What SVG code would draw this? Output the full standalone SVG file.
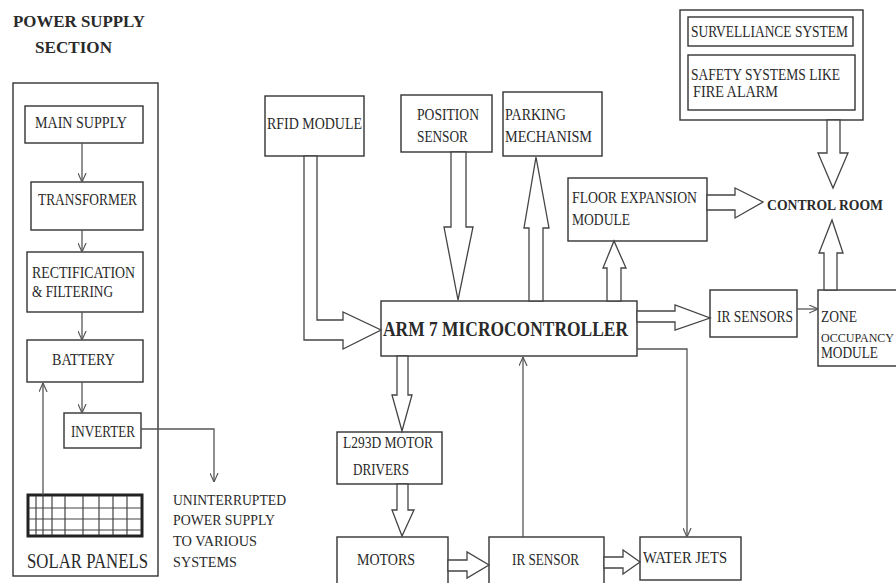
<svg xmlns="http://www.w3.org/2000/svg" width="896" height="583" viewBox="0 0 896 583">
<defs>
<style>
.box{fill:#fff;stroke:#333;stroke-width:1.4}
.t{font-family:"Liberation Serif","Times New Roman",serif;font-size:16px;fill:#2a2a2a}
.b{font-weight:bold}
.ln{fill:none;stroke:#555;stroke-width:1.3}
.blk{fill:#fff;stroke:#444;stroke-width:1.3;stroke-linejoin:miter}
.grid{stroke:#444;stroke-width:1.2}
</style>
<marker id="ah" viewBox="0 0 10 10" refX="10" refY="5" markerWidth="9" markerHeight="9" markerUnits="userSpaceOnUse" orient="auto">
<path d="M0,0.5 L10,5 L0,9.5" fill="none" stroke="#555" stroke-width="1.3"/>
</marker>
</defs>
<rect width="896" height="583" fill="#fff"/>

<g id="power-title">
<text class="t b" x="13" y="27" style="font-size:17px" textLength="132" lengthAdjust="spacingAndGlyphs">POWER SUPPLY</text>
<text class="t b" x="35" y="53" style="font-size:17px" textLength="77" lengthAdjust="spacingAndGlyphs">SECTION</text>
</g>
<g id="power-section"><rect class="box" x="13" y="83" width="145" height="493"/></g>
<g id="main-supply"><rect class="box" x="25" y="106" width="118" height="37"/>
<text class="t" x="35" y="128" textLength="92" lengthAdjust="spacingAndGlyphs">MAIN SUPPLY</text></g>
<g id="transformer"><rect class="box" x="31" y="182" width="112" height="48"/>
<text class="t" x="38" y="205" textLength="99" lengthAdjust="spacingAndGlyphs">TRANSFORMER</text></g>
<g id="rectification"><rect class="box" x="27" y="252" width="116" height="60"/>
<text class="t" x="32" y="278" textLength="103" lengthAdjust="spacingAndGlyphs">RECTIFICATION</text>
<text class="t" x="32" y="297" textLength="81" lengthAdjust="spacingAndGlyphs">&amp; FILTERING</text></g>
<g id="battery"><rect class="box" x="27" y="340" width="116" height="42"/>
<text class="t" x="52" y="365" textLength="63" lengthAdjust="spacingAndGlyphs">BATTERY</text></g>
<g id="inverter"><rect class="box" x="64" y="413" width="77" height="35"/>
<text class="t" x="71" y="437" textLength="64" lengthAdjust="spacingAndGlyphs">INVERTER</text></g>
<g id="solar-panels">
<rect x="28" y="495" width="114" height="41" fill="#fff" stroke="#222" stroke-width="3"/>
<line class="grid" x1="29" y1="508" x2="141" y2="508"/>
<line class="grid" x1="29" y1="519" x2="141" y2="519"/>
<line class="grid" x1="29" y1="530" x2="141" y2="530"/>
<line class="grid" x1="36" y1="496" x2="36" y2="535"/>
<line class="grid" x1="43" y1="496" x2="43" y2="535"/>
<line class="grid" x1="52" y1="496" x2="52" y2="535"/>
<line class="grid" x1="65" y1="496" x2="65" y2="535"/>
<line class="grid" x1="83" y1="496" x2="83" y2="535"/>
<line class="grid" x1="99" y1="496" x2="99" y2="535"/>
<line class="grid" x1="113" y1="496" x2="113" y2="535"/>
<line class="grid" x1="127" y1="496" x2="127" y2="535"/>
<text class="t" x="27" y="568" style="font-size:20px" textLength="121" lengthAdjust="spacingAndGlyphs">SOLAR PANELS</text>
</g>
<g id="ups-label">
<text class="t" x="173" y="505" style="font-size:15px" textLength="113" lengthAdjust="spacingAndGlyphs">UNINTERRUPTED</text>
<text class="t" x="173" y="525" style="font-size:15px" textLength="102" lengthAdjust="spacingAndGlyphs">POWER SUPPLY</text>
<text class="t" x="173" y="546" style="font-size:15px" textLength="84" lengthAdjust="spacingAndGlyphs">TO VARIOUS</text>
<text class="t" x="173" y="567" style="font-size:15px" textLength="64" lengthAdjust="spacingAndGlyphs">SYSTEMS</text>
</g>

<g id="rfid"><rect class="box" x="265" y="96" width="99" height="60"/>
<text class="t" x="267" y="129" textLength="95" lengthAdjust="spacingAndGlyphs">RFID MODULE</text></g>
<g id="position-sensor"><rect class="box" x="401" y="95" width="91" height="57"/>
<text class="t" x="417" y="120" textLength="62" lengthAdjust="spacingAndGlyphs">POSITION</text>
<text class="t" x="417" y="142" textLength="51" lengthAdjust="spacingAndGlyphs">SENSOR</text></g>
<g id="parking"><rect class="box" x="503" y="92" width="99" height="64"/>
<text class="t" x="505" y="120" textLength="61" lengthAdjust="spacingAndGlyphs">PARKING</text>
<text class="t" x="505" y="142" textLength="87" lengthAdjust="spacingAndGlyphs">MECHANISM</text></g>
<g id="floor-expansion"><rect class="box" x="568" y="178" width="139" height="63"/>
<text class="t" x="572" y="203" textLength="125" lengthAdjust="spacingAndGlyphs">FLOOR EXPANSION</text>
<text class="t" x="572" y="225" textLength="58" lengthAdjust="spacingAndGlyphs">MODULE</text></g>
<g id="control-room">
<text class="t b" x="767" y="210" style="font-size:14px" textLength="116" lengthAdjust="spacingAndGlyphs">CONTROL ROOM</text></g>
<g id="safety-group"><rect class="box" x="680" y="10" width="183" height="110"/>
<rect class="box" x="688" y="17" width="165" height="29"/>
<text class="t" x="691" y="37" textLength="157" lengthAdjust="spacingAndGlyphs">SURVELLIANCE SYSTEM</text>
<rect class="box" x="688" y="55" width="167" height="55"/>
<text class="t" x="691" y="80" textLength="149" lengthAdjust="spacingAndGlyphs">SAFETY SYSTEMS LIKE</text>
<text class="t" x="693" y="97" textLength="85" lengthAdjust="spacingAndGlyphs">FIRE ALARM</text></g>
<g id="arm7"><rect class="box" x="381" y="301" width="256" height="55"/>
<text class="t b" x="383" y="336" style="font-size:20px" textLength="245" lengthAdjust="spacingAndGlyphs">ARM 7 MICROCONTROLLER</text></g>
<g id="ir-sensors"><rect class="box" x="710" y="290" width="87" height="47"/>
<text class="t" x="717" y="322" textLength="76" lengthAdjust="spacingAndGlyphs">IR SENSORS</text></g>
<g id="zone"><rect class="box" x="818" y="290" width="100" height="76"/>
<text class="t" x="821" y="322" textLength="36" lengthAdjust="spacingAndGlyphs">ZONE</text>
<text class="t" x="821" y="342" style="font-size:12px" textLength="73" lengthAdjust="spacingAndGlyphs">OCCUPANCY</text>
<text class="t" x="821" y="358" textLength="57" lengthAdjust="spacingAndGlyphs">MODULE</text></g>
<g id="l293d"><rect class="box" x="337" y="432" width="105" height="52"/>
<text class="t" x="343" y="448" textLength="90" lengthAdjust="spacingAndGlyphs">L293D MOTOR</text>
<text class="t" x="353" y="475" textLength="56" lengthAdjust="spacingAndGlyphs">DRIVERS</text></g>
<g id="motors"><rect class="box" x="337" y="537" width="111" height="60"/>
<text class="t" x="357" y="565" textLength="58" lengthAdjust="spacingAndGlyphs">MOTORS</text></g>
<g id="ir-sensor"><rect class="box" x="489" y="537" width="115" height="60"/>
<text class="t" x="512" y="565" textLength="67" lengthAdjust="spacingAndGlyphs">IR SENSOR</text></g>
<g id="water-jets"><rect class="box" x="640" y="537" width="101" height="43"/>
<text class="t" x="643" y="563" textLength="84" lengthAdjust="spacingAndGlyphs">WATER JETS</text></g>

<g id="connectors">
<path class="ln" d="M82,143 L82,182" marker-end="url(#ah)"/>
<path class="ln" d="M82,230 L82,252" marker-end="url(#ah)"/>
<path class="ln" d="M82,312 L82,340" marker-end="url(#ah)"/>
<path class="ln" d="M82,382 L82,413" marker-end="url(#ah)"/>
<path class="ln" d="M43,495 L43,383" marker-end="url(#ah)"/>
<path class="ln" d="M141,429 L214,429 L214,482" marker-end="url(#ah)"/>
<polygon class="blk" points="304,156 304,340 343,340 343,349 381,330 343,312 343,320 317,320 317,156"/>
<polygon class="blk" points="451,152 451,227 444,227 458,300 473,227 466,227 466,152"/>
<polygon class="blk" points="529,301 529,228 524,228 536,157 549,228 543,228 543,301"/>
<polygon class="blk" points="607,301 607,268 603,268 614,241 626,268 621,268 621,301"/>
<polygon class="blk" points="637,311 675,311 675,305 710,318 675,330 675,322 637,322"/>
<polygon class="blk" points="707,195 735,195 735,188 763,202 735,218 735,210 707,210"/>
<polygon class="blk" points="827,120 827,153 818,153 833,188 848,153 840,153 840,120"/>
<polygon class="blk" points="824,290 824,253 819,253 832,220 843,253 837,253 837,290"/>
<polygon class="blk" points="397,356 397,395 392,395 402,431 412,395 408,395 408,356"/>
<polygon class="blk" points="397,484 397,510 392,510 402,536 414,510 408,510 408,484"/>
<polygon class="blk" points="448,560 467,560 467,552 489,565 467,578 467,571 448,571"/>
<polygon class="blk" points="604,557 623,557 623,550 640,562 623,574 623,568 604,568"/>
<path class="ln" d="M797,309 L818,309" marker-end="url(#ah)"/>
<path class="ln" d="M637,349 L687,349 L687,537" marker-end="url(#ah)"/>
<path class="ln" d="M523,537 L523,357" marker-end="url(#ah)"/>
</g>
</svg>
